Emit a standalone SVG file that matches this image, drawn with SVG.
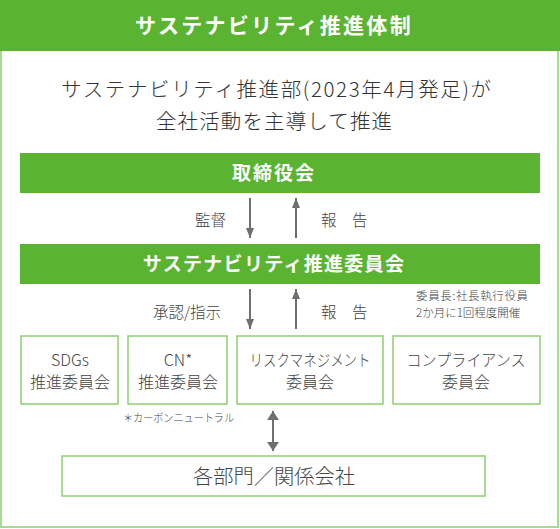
<svg xmlns="http://www.w3.org/2000/svg" width="560" height="529" viewBox="0 0 560 529">
<defs>
<style>
text{font-family:"Noto Sans CJK JP","Noto Sans",sans-serif;font-weight:300;}
.hd{fill:#fff;font-weight:bold;text-anchor:middle;}
.sub{fill:#333;font-size:20.5px;text-anchor:middle;}
.lbl{fill:#444;font-size:15.5px;}
.bx{fill:#fff;stroke:#8dcf72;stroke-width:1.5;}
.bt{fill:#444;font-size:16px;text-anchor:middle;}
.big{font-size:20.5px;}
.note{fill:#444;font-size:11.5px;}
.sm{font-size:11px;}
.ar{stroke:#6f6f6f;stroke-width:2;fill:none;}
.bar{fill:#5ab432;}
</style>
<marker id="ah" viewBox="0 0 10 8" refX="10" refY="4" markerWidth="10" markerHeight="8" markerUnits="userSpaceOnUse" orient="auto-start-reverse">
<path d="M0,0 L10,4 L0,8 Z" fill="#6f6f6f"/>
</marker>
<marker id="ah2" viewBox="0 0 9 12" refX="9" refY="6" markerWidth="9" markerHeight="12" markerUnits="userSpaceOnUse" orient="auto-start-reverse">
<path d="M0,0 L9,6 L0,12 Z" fill="#6f6f6f"/>
</marker>
</defs>
<rect x="1" y="1" width="557" height="526" fill="#fff" stroke="#a6db92" stroke-width="2"/>
<g id="header">
<rect x="0" y="0" width="560" height="51" class="bar"/>
<text x="274" y="33" class="hd" font-size="21" letter-spacing="2.3">サステナビリティ推進体制</text>
</g>
<g id="intro">
<text x="276" y="97" class="sub" textLength="430" lengthAdjust="spacing">サステナビリティ推進部(2023年4月発足)が</text>
<text x="274" y="129" class="sub" textLength="236" lengthAdjust="spacing">全社活動を主導して推進</text>
</g>
<g id="board">
<rect x="20" y="153" width="520" height="40" class="bar"/>
<text x="274" y="180" class="hd" font-size="19" letter-spacing="2">取締役会</text>
</g>
<g id="committee">
<rect x="20" y="244" width="520" height="40" class="bar"/>
<text x="274" y="271" class="hd" font-size="19" letter-spacing="1.3">サステナビリティ推進委員会</text>
</g>
<g id="note">
<text x="416" y="300" class="note" textLength="112" lengthAdjust="spacing">委員長:社長執行役員</text>
<text x="416" y="317" class="note">2か月に1回程度開催</text>
</g>
<g id="sdgs">
<rect x="21" y="336" width="97" height="68" class="bx"/>
<text x="70" y="366" class="bt">SDGs</text>
<text x="70" y="388" class="bt">推進委員会</text>
</g>
<g id="cn">
<rect x="128" y="336" width="99" height="68" class="bx"/>
<text x="178" y="366" class="bt">CN*</text>
<text x="178" y="388" class="bt">推進委員会</text>
</g>
<g id="risk">
<rect x="237" y="336" width="146" height="68" class="bx"/>
<text x="310" y="366" class="bt" textLength="121" lengthAdjust="spacingAndGlyphs">リスクマネジメント</text>
<text x="310" y="388" class="bt">委員会</text>
</g>
<g id="compliance">
<rect x="393" y="336" width="147" height="68" class="bx"/>
<text x="466" y="366" class="bt" textLength="119" lengthAdjust="spacingAndGlyphs">コンプライアンス</text>
<text x="466" y="388" class="bt">委員会</text>
</g>
<g id="cnnote">
<text x="123" y="422" class="note sm" textLength="111" lengthAdjust="spacingAndGlyphs">＊カーボンニュートラル</text>
</g>
<g id="depts">
<rect x="62" y="456" width="423" height="40" class="bx"/>
<text x="274" y="484" class="bt big" textLength="162" lengthAdjust="spacingAndGlyphs">各部門／関係会社</text>
</g>
<g id="connectors">
<line x1="250" y1="198" x2="250" y2="238" class="ar" marker-end="url(#ah)"/>
<line x1="296" y1="238" x2="296" y2="198" class="ar" marker-end="url(#ah)"/>
<line x1="250" y1="289" x2="250" y2="329" class="ar" marker-end="url(#ah)"/>
<line x1="296" y1="329" x2="296" y2="289" class="ar" marker-end="url(#ah)"/>
<line x1="273" y1="411" x2="273" y2="451" class="ar" stroke-width="2.5" marker-start="url(#ah2)" marker-end="url(#ah2)"/>
</g>
<g id="labels">
<text x="195" y="226" class="lbl">監督</text>
<text x="321" y="226" class="lbl">報　告</text>
<text x="153" y="318" class="lbl">承認/指示</text>
<text x="321" y="318" class="lbl">報　告</text>
</g>
</svg>
